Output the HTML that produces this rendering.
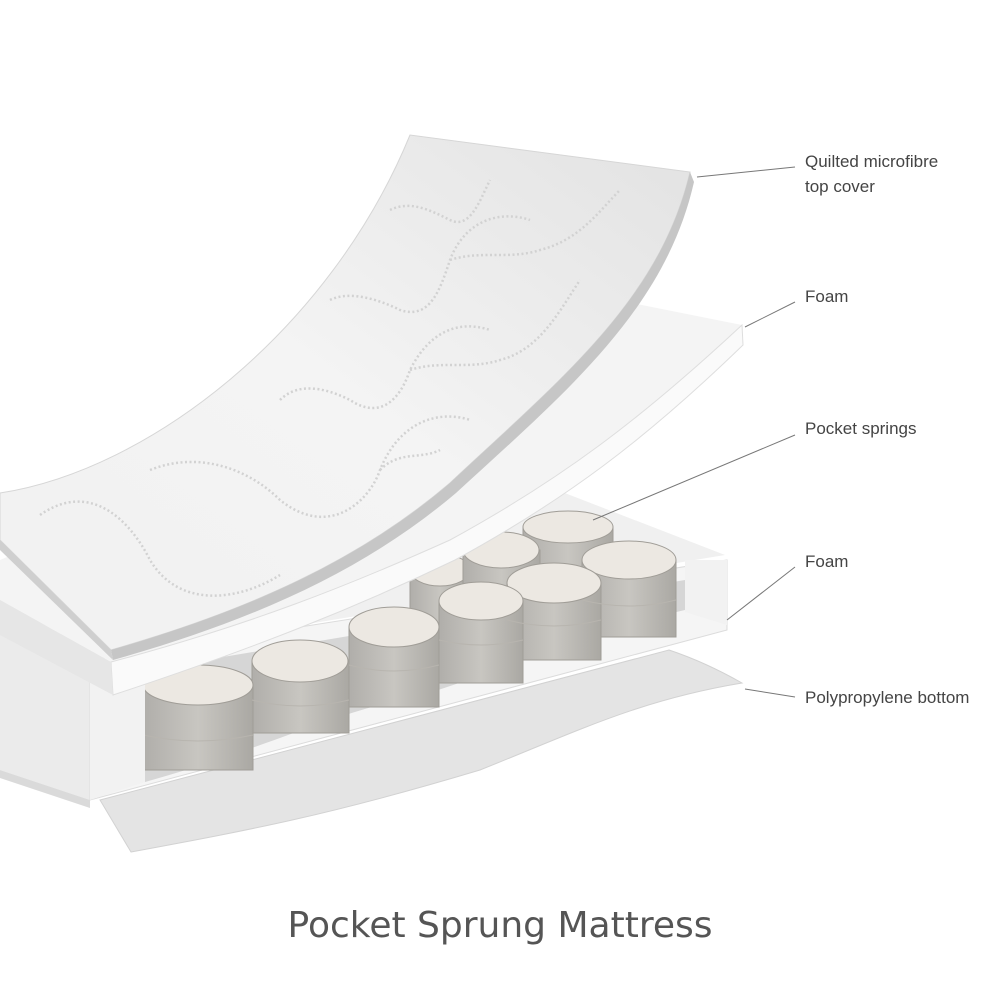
<!DOCTYPE html>
<html><head><meta charset="utf-8"><style>
html,body{margin:0;padding:0;background:#fff;}
svg{display:block}
</style></head><body>
<svg width="1000" height="1000" viewBox="0 0 1000 1000" xmlns="http://www.w3.org/2000/svg">
<defs>
<linearGradient id="cov" x1="0" y1="1" x2="1" y2="0">
<stop offset="0" stop-color="#f1f1f1"/><stop offset="0.5" stop-color="#f4f4f4"/><stop offset="1" stop-color="#e2e2e2"/>
</linearGradient>
<linearGradient id="cyl" x1="0" y1="0" x2="1" y2="0">
<stop offset="0" stop-color="#b0aeaa"/><stop offset="0.5" stop-color="#c8c6c1"/><stop offset="1" stop-color="#aaa8a3"/>
</linearGradient>
</defs>
<rect width="1000" height="1000" fill="#fff"/>
<!-- bottom sheet -->
<path d="M100,800 L669,650 Q705,662 742,683 C640,700 580,730 480,770 C330,815 250,830 131,852 Z" fill="#e4e4e4" stroke="#d2d2d2"/>
<!-- base left side -->
<path d="M0,590 L90,660 L90,800 L0,770 Z" fill="#ebebeb"/>
<path d="M0,770 L90,800 L90,808 L0,778 Z" fill="#dadada"/>
<!-- base top behind -->
<path d="M0,580 L557,490 L725,555 L90,660 Z" fill="#f0f0f0"/>
<!-- front face -->
<path d="M90,660 L727,560 L727,630 L90,800 Z" fill="#f5f5f5" stroke="#dcdcdc"/>
<!-- cavity -->
<path d="M145,670 L685,580 L685,610 C640,620 600,640 560,650 C500,665 450,690 400,700 C330,715 260,750 145,782 Z" fill="#d6d6d6"/>
<!-- springs -->
<g stroke="#a09d97" stroke-width="1">
<g fill="url(#cyl)">
<path d="M410,570 h60 v60 h-60 Z"/><ellipse cx="440" cy="570" rx="30" ry="16" fill="#ece8e2"/>
<path d="M523,527 h90 v45 h-90 Z"/><ellipse cx="568" cy="527" rx="45" ry="16" fill="#ece8e2"/>
<path d="M463,550 h77 v45 h-77 Z"/><ellipse cx="501" cy="550" rx="38" ry="18" fill="#ece8e2"/>
<path d="M582,560 h94 v77 h-94 Z"/><ellipse cx="629" cy="560" rx="47" ry="19" fill="#ece8e2"/>
<path d="M507,583 h94 v77 h-94 Z"/><ellipse cx="554" cy="583" rx="47" ry="20" fill="#ece8e2"/>
<path d="M439,601 h84 v82 h-84 Z"/><ellipse cx="481" cy="601" rx="42" ry="19" fill="#ece8e2"/>
<path d="M349,627 h90 v80 h-90 Z"/><ellipse cx="394" cy="627" rx="45" ry="20" fill="#ece8e2"/>
<path d="M252,661 h97 v72 h-97 Z"/><ellipse cx="300" cy="661" rx="48" ry="21" fill="#ece8e2"/>
<path d="M143,685 h110 v85 h-110 Z"/><ellipse cx="198" cy="685" rx="55" ry="20" fill="#ece8e2"/>
</g>
<g fill="none" stroke="#b8b5af" stroke-width="1">
<path d="M143,735 q55,12 110,0 M252,700 q48,12 97,0 M349,665 q45,12 90,0 M439,640 q42,10 84,0 M507,620 q47,12 94,0 M582,600 q47,12 94,0"/>
</g>
</g>
<!-- left wall of cavity -->
<path d="M90,660 L145,670 L145,782 L90,800 Z" fill="#f2f2f2"/>
<!-- right wall -->
<path d="M685,560 L727,560 L727,625 L685,612 Z" fill="#f2f2f2"/>
<!-- upper foam -->
<path d="M0,560 L617,300 L742,325 C640,420 560,480 450,540 C350,585 250,625 111,662 L0,600 Z" fill="#f4f4f4"/>
<path d="M111,662 C250,625 350,585 450,540 C560,480 640,420 742,325 L743,345 C645,440 565,500 455,560 C355,608 255,648 113,695 Z" fill="#fafafa" stroke="#dedede"/>
<path d="M0,600 L111,662 L113,695 L0,635 Z" fill="#e6e6e6"/>
<!-- cover -->
<path d="M0,493 C150,470 330,330 410,135 L690,172 C660,300 560,380 450,483 C360,560 250,610 111,650 L0,540 Z" fill="url(#cov)" stroke="#d6d6d6"/>
<path d="M111,650 C250,610 360,560 450,483 C560,380 660,300 690,172 L694,182 C665,310 566,392 456,493 C365,570 255,620 113,660 Z" fill="#c6c6c6"/>
<path d="M0,540 L111,650 L113,660 L0,550 Z" fill="#cfcfcf"/>
<!-- stitching -->
<g fill="none" stroke="#d2d2d2" stroke-width="2.5" stroke-dasharray="2 2.5">
<path d="M40,515 C90,480 130,520 150,560 C180,610 240,600 280,575"/>
<path d="M150,470 C200,450 250,470 280,500 C330,540 370,500 380,470 C400,420 440,410 470,420"/>
<path d="M280,400 C300,380 330,390 350,400 C380,420 400,400 410,370 C430,330 460,320 490,330"/>
<path d="M410,370 C440,360 470,370 500,360 C540,350 560,310 580,280"/>
<path d="M330,300 C350,290 380,300 400,310 C430,320 440,290 450,260 C465,220 500,210 530,220"/>
<path d="M450,260 C480,250 510,260 540,250 C580,240 600,210 620,190"/>
<path d="M390,210 C410,200 430,210 450,220 C470,230 480,200 490,180"/>
<path d="M380,470 C400,450 420,460 440,450"/>
</g>
<!-- leader lines -->
<g stroke="#777" stroke-width="1" fill="none">
<line x1="697" y1="177" x2="795" y2="167"/>
<line x1="745" y1="327" x2="795" y2="302"/>
<line x1="593" y1="520" x2="795" y2="435"/>
<line x1="727" y1="620" x2="795" y2="567"/>
<line x1="745" y1="689" x2="795" y2="697"/>
</g>
<g font-family="Liberation Sans, sans-serif" font-size="17" fill="#444">
<text x="805" y="167">Quilted microfibre</text>
<text x="805" y="192">top cover</text>
<text x="805" y="302">Foam</text>
<text x="805" y="434">Pocket springs</text>
<text x="805" y="567">Foam</text>
<text x="805" y="703">Polypropylene bottom</text>
</g>
<text x="500" y="937" text-anchor="middle" font-family="DejaVu Sans, Liberation Sans, sans-serif" font-size="36" fill="#555">Pocket Sprung Mattress</text>
</svg>
</body></html>
